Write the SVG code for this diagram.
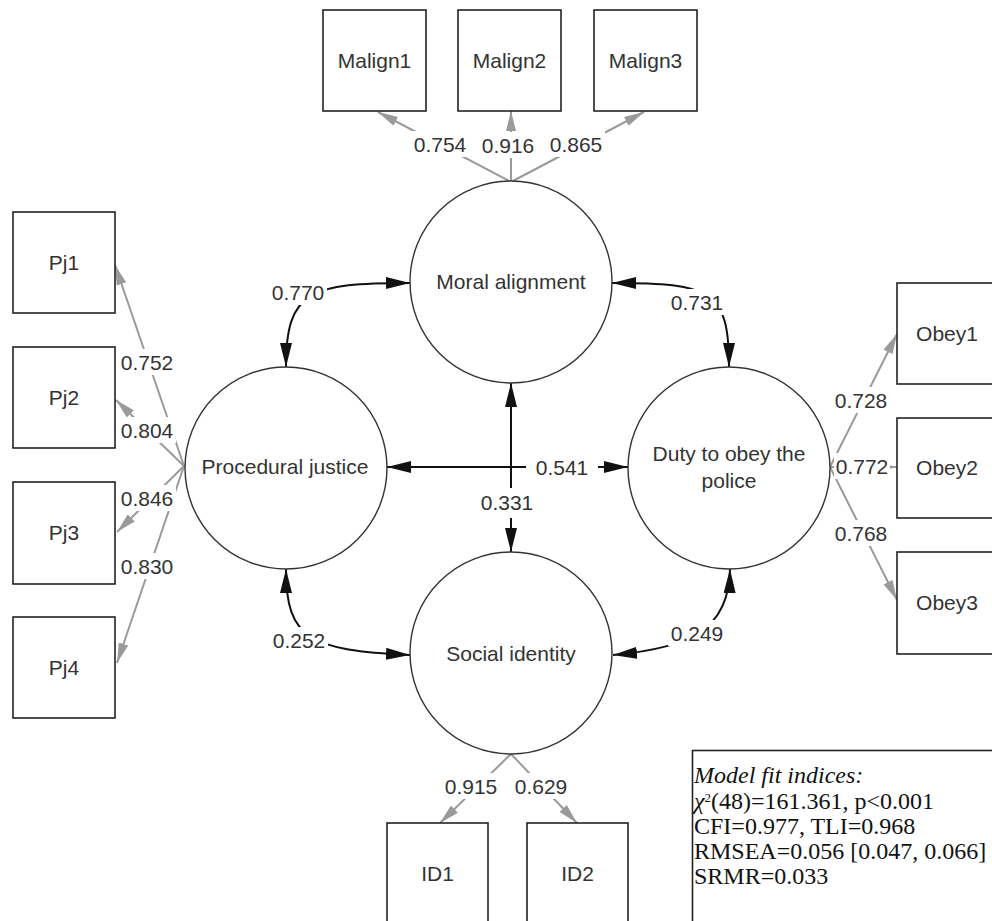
<svg xmlns="http://www.w3.org/2000/svg" width="992" height="921" viewBox="0 0 992 921">
  <defs>
    <style>
      .box { fill: #fff; stroke: #222; stroke-width: 1.6; }
      .lat { fill: #fff; stroke: #333; stroke-width: 1.4; }
      .lbl { font-family: "Liberation Sans", Arial, sans-serif; font-size: 21px; fill: #333; text-anchor: middle; }
      .load { fill: none; stroke: #9a9a9a; stroke-width: 2; marker-end: url(#ahg); }
      .cov { fill: none; stroke: #111; stroke-width: 2; marker-start: url(#ahk); marker-end: url(#ahk); }
      .ebg { fill: #fff; }
      .num { font-family: "Liberation Sans", Arial, sans-serif; font-size: 21px; fill: #333; text-anchor: middle; }
      .fit { font-family: "Liberation Serif", "Times New Roman", serif; font-size: 24px; fill: #111; }
    </style>
    <marker id="ahk" viewBox="0 0 24 12" markerWidth="24" markerHeight="12" refX="24" refY="6" orient="auto-start-reverse" markerUnits="userSpaceOnUse">
      <path d="M0,0 L24,6 L0,12 z" fill="#111"/>
    </marker>
    <marker id="ahg" viewBox="0 0 20 10" markerWidth="20" markerHeight="10" refX="20" refY="5" orient="auto" markerUnits="userSpaceOnUse">
      <path d="M0,0 L20,5 L0,10 z" fill="#9a9a9a"/>
    </marker>
  </defs>

  <rect width="992" height="921" fill="#fff"/>

  <!-- edges: factor loadings (grey) and latent covariances (black) -->
  <g id="connectors">
    <path class="load" d="M511,182 L378,112"/>
    <path class="load" d="M511,182 L511,111"/>
    <path class="load" d="M511,182 L644,112"/>

    <path class="load" d="M184,466 L115,265"/>
    <path class="load" d="M184,466 L116,400"/>
    <path class="load" d="M184,466 L117,532"/>
    <path class="load" d="M184,466 L117,663"/>

    <path class="load" d="M830,467 L897,334"/>
    <path class="load" d="M830,467 L897,467"/>
    <path class="load" d="M830,467 L897,600"/>

    <path class="load" d="M511,754 L440,823"/>
    <path class="load" d="M511,754 L577,823"/>

    <path class="cov" d="M286,367 C286,290 310,283 410,283"/>
    <path class="cov" d="M612,283 C712,283 729,290 729,367"/>
    <path class="cov" d="M286,569 C286,640 310,650 410,655"/>
    <path class="cov" d="M613,655 C690,648 729,630 730,569"/>
    <path class="cov" d="M511,383 L511,552"/>
    <path class="cov" d="M387,467 L628,467"/>

    <!-- edge labels -->
    <g id="edge-labels">
      <rect class="ebg" x="411" y="131" width="58" height="26"/><text class="num" x="440" y="152">0.754</text>
      <rect class="ebg" x="479" y="132" width="58" height="26"/><text class="num" x="508" y="153">0.916</text>
      <rect class="ebg" x="547" y="131" width="58" height="26"/><text class="num" x="576" y="152">0.865</text>

      <rect class="ebg" x="118" y="349" width="58" height="26"/><text class="num" x="147" y="370">0.752</text>
      <rect class="ebg" x="118" y="417" width="58" height="26"/><text class="num" x="147" y="438">0.804</text>
      <rect class="ebg" x="118" y="485" width="58" height="26"/><text class="num" x="147" y="506">0.846</text>
      <rect class="ebg" x="118" y="553" width="58" height="26"/><text class="num" x="147" y="574">0.830</text>

      <rect class="ebg" x="832" y="387" width="58" height="26"/><text class="num" x="861" y="408">0.728</text>
      <rect class="ebg" x="834" y="453" width="56" height="26"/><text class="num" x="862" y="474">0.772</text>
      <rect class="ebg" x="832" y="520" width="58" height="26"/><text class="num" x="861" y="541">0.768</text>

      <rect class="ebg" x="442" y="773" width="58" height="26"/><text class="num" x="471" y="794">0.915</text>
      <rect class="ebg" x="512" y="773" width="58" height="26"/><text class="num" x="541" y="794">0.629</text>

      <rect class="ebg" x="269" y="279" width="58" height="26"/><text class="num" x="298" y="300">0.770</text>
      <rect class="ebg" x="668" y="289" width="58" height="26"/><text class="num" x="697" y="310">0.731</text>
      <rect class="ebg" x="270" y="627" width="58" height="26"/><text class="num" x="299" y="648">0.252</text>
      <rect class="ebg" x="668" y="620" width="58" height="26"/><text class="num" x="697" y="641">0.249</text>
      <rect class="ebg" x="526" y="452" width="72" height="30"/><text class="num" x="562" y="475">0.541</text>
      <rect class="ebg" x="478" y="488" width="58" height="30"/><text class="num" x="507" y="510">0.331</text>
    </g>
  </g>

  <!-- latent variables -->
  <g id="moral-alignment"><circle class="lat" cx="511" cy="282" r="101"/><text class="lbl" x="511" y="289">Moral alignment</text></g>
  <g id="procedural-justice"><circle class="lat" cx="286" cy="468" r="101"/><text class="lbl" x="285" y="474">Procedural justice</text></g>
  <g id="duty-to-obey"><circle class="lat" cx="729" cy="468" r="101"/><text class="lbl" x="729" y="461">Duty to obey the</text><text class="lbl" x="729" y="488">police</text></g>
  <g id="social-identity"><circle class="lat" cx="511" cy="653" r="101"/><text class="lbl" x="511" y="661">Social identity</text></g>

  <!-- observed indicators -->
  <g id="malign1"><rect class="box" x="323" y="10" width="103" height="101"/><text class="lbl" x="374.5" y="68">Malign1</text></g>
  <g id="malign2"><rect class="box" x="458" y="10" width="103" height="101"/><text class="lbl" x="509.5" y="68">Malign2</text></g>
  <g id="malign3"><rect class="box" x="594" y="10" width="103" height="101"/><text class="lbl" x="645.5" y="68">Malign3</text></g>

  <g id="pj1"><rect class="box" x="13" y="212" width="102" height="101"/><text class="lbl" x="64" y="270">Pj1</text></g>
  <g id="pj2"><rect class="box" x="13" y="347" width="102" height="101"/><text class="lbl" x="64" y="405">Pj2</text></g>
  <g id="pj3"><rect class="box" x="13" y="482" width="102" height="102"/><text class="lbl" x="64" y="540">Pj3</text></g>
  <g id="pj4"><rect class="box" x="13" y="617" width="102" height="101"/><text class="lbl" x="64" y="675">Pj4</text></g>

  <g id="obey1"><rect class="box" x="897" y="283" width="103" height="101"/><text class="lbl" x="947" y="341">Obey1</text></g>
  <g id="obey2"><rect class="box" x="897" y="418" width="103" height="100"/><text class="lbl" x="947" y="475">Obey2</text></g>
  <g id="obey3"><rect class="box" x="897" y="552" width="103" height="102"/><text class="lbl" x="947" y="610">Obey3</text></g>

  <g id="id1"><rect class="box" x="387" y="823" width="101" height="110"/><text class="lbl" x="437.5" y="881">ID1</text></g>
  <g id="id2"><rect class="box" x="527" y="823" width="101" height="110"/><text class="lbl" x="577.5" y="881">ID2</text></g>

  <!-- fit statistics -->
  <g id="fit-indices">
    <rect x="692.5" y="750.5" width="320" height="200" fill="#fff" stroke="#222" stroke-width="1.6"/>
    <text class="fit" x="694" y="783" font-style="italic">Model fit indices:</text>
    <text class="fit" x="694" y="809"><tspan font-style="italic">χ</tspan><tspan font-size="13" dy="-7">2</tspan><tspan dy="7">(48)=161.361, p&lt;0.001</tspan></text>
    <text class="fit" x="694" y="834">CFI=0.977, TLI=0.968</text>
    <text class="fit" x="694" y="859">RMSEA=0.056 [0.047, 0.066]</text>
    <text class="fit" x="694" y="884">SRMR=0.033</text>
  </g>
</svg>
